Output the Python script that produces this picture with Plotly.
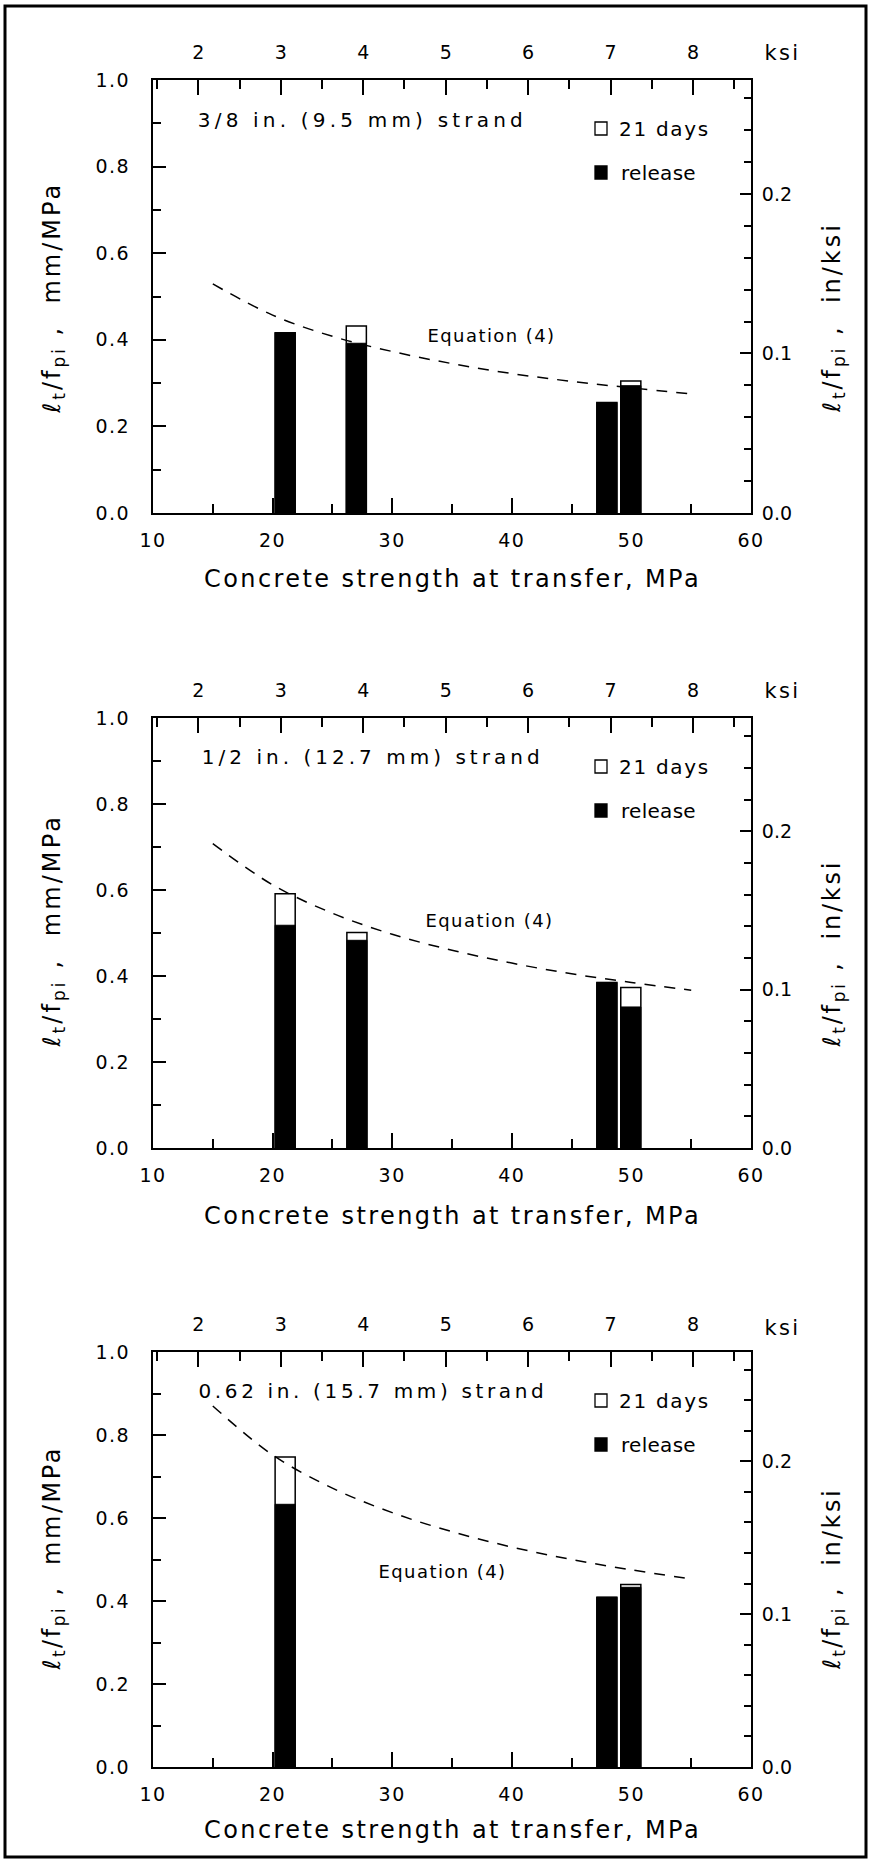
import json
import plotly.graph_objects as go

W, H = 871, 1862
MPA_PER_KSI = 6.894757
INKSI_PER_MMMPA = MPA_PER_KSI / 25.4

# ---------------- data ----------------
bar_x_p1 = [21.05, 27.0, 47.95, 49.95]
release_p1 = [0.416, 0.392, 0.255, 0.294]
days21_p1 = [0.416, 0.432, 0.255, 0.305]

bar_x_p2 = [21.05, 27.05, 47.95, 49.95]
release_p2 = [0.518, 0.483, 0.385, 0.328]
days21_p2 = [0.591, 0.501, 0.385, 0.373]

bar_x_p3 = [21.05, 47.95, 49.95]
release_p3 = [0.633, 0.409, 0.433]
days21_p3 = [0.747, 0.409, 0.440]

eq_x = [15, 20, 25, 30, 35, 40, 45, 50, 55]
eq_p1 = [0.529, 0.457, 0.408, 0.373, 0.345, 0.322, 0.304, 0.289, 0.275]
eq_p2 = [0.708, 0.612, 0.546, 0.497, 0.460, 0.430, 0.405, 0.385, 0.367]
eq_p3 = [0.870, 0.752, 0.672, 0.613, 0.567, 0.530, 0.500, 0.475, 0.453]

strand_labels = ["3/8 in. (9.5 mm) strand",
                 "1/2 in. (12.7 mm) strand",
                 "0.62 in. (15.7 mm) strand"]

mpa_ticks = [10, 20, 30, 40, 50, 60]
ksi_ticks = [2, 3, 4, 5, 6, 7, 8]
mm_ticks = [0.0, 0.2, 0.4, 0.6, 0.8, 1.0]
in_ticks = [0.0, 0.1, 0.2]

x_title = "Concrete strength at transfer, MPa"
y_title_left = "ℓ<sub>t</sub>/f<sub>pi</sub> ,  mm/MPa"
y_title_right = "ℓ<sub>t</sub>/f<sub>pi</sub> ,  in/ksi"
legend_labels = ["21 days", "release"]
eq_label = "Equation (4)"

panels = [
    dict(x=bar_x_p1, rel=release_p1, d21=days21_p1, eq=eq_p1, label=strand_labels[0]),
    dict(x=bar_x_p2, rel=release_p2, d21=days21_p2, eq=eq_p2, label=strand_labels[1]),
    dict(x=bar_x_p3, rel=release_p3, d21=days21_p3, eq=eq_p3, label=strand_labels[2]),
]

# ---------------- layout geometry (pixels) ----------------
PLOT_L, PLOT_R = 153, 751
tops = [80, 718, 1352]
bottoms = [513, 1148, 1767]
ksi_lab_dy = [27, 27, 24]
xtitle_dy = [66, 68, 63]
strand_pos = [(362, 40), (372, 39), (373, 39)]
strand_w = [329, 342, 349]
eq_pos = [(38.3, 0.409), (38.1, 0.528), (34.2, 0.470)]
ytl_span = [(176, 419), (808, 1053), (1441, 1675)]
ytr_span = [(217, 419), (855, 1053), (1484, 1675)]

FONT = "DejaVu Sans"


def px(x):
    return x / W


def py(y):
    return 1 - y / H


def ref(p, n):
    return p if n == 1 else f"{p}{n}"


def axname(p, n):
    return p + "axis" + ("" if n == 1 else str(n))


fig = go.Figure()
layout = dict(
    width=W, height=H, template="none",
    margin=dict(l=0, r=0, t=0, b=0, pad=0),
    paper_bgcolor="white", plot_bgcolor="white",
    barmode="overlay", showlegend=False,
    font=dict(family=FONT, color="black", size=19),
)
annotations = []
targets = []   # target rendered width (px) of each annotation text
shapes = []

axis_common = dict(showgrid=False, zeroline=False, showline=True, linecolor="black",
                   linewidth=2, ticks="inside", tickcolor="black", tickwidth=1.5,
                   tickfont=dict(family=FONT, size=19, color="black"),
                   fixedrange=True, automargin=False)


def add_ann(target, **kw):
    annotations.append(dict(showarrow=False, **kw))
    targets.append(target)


for i, p in enumerate(panels):
    nb, nt = 2 * i + 1, 2 * i + 2
    xb, yl = ref("x", nb), ref("y", nb)
    top, bot = tops[i], bottoms[i]

    layout[axname("x", nb)] = dict(
        axis_common, domain=[px(PLOT_L), px(PLOT_R)], anchor=yl, range=[10, 60],
        tickmode="array", tickvals=mpa_ticks, ticktext=[str(v) for v in mpa_ticks],
        ticklen=15, ticklabelstandoff=9,
        minor=dict(ticks="inside", ticklen=9, tickmode="linear", tick0=0, dtick=5,
                   tickcolor="black", tickwidth=1.5),
    )
    layout[axname("x", nt)] = dict(
        axis_common, overlaying=xb, side="top", anchor=yl,
        range=[10 / MPA_PER_KSI, 60 / MPA_PER_KSI],
        tickmode="array", tickvals=ksi_ticks, ticktext=[str(v) for v in ksi_ticks],
        ticklen=15, ticklabelstandoff=11,
        minor=dict(ticks="inside", ticklen=9, tickmode="linear", tick0=0, dtick=0.5,
                   tickcolor="black", tickwidth=1.5),
    )
    layout[axname("y", nb)] = dict(
        axis_common, domain=[py(bot), py(top)], anchor=xb, range=[0, 1],
        tickmode="array", tickvals=mm_ticks, ticktext=[f"{v:.1f}" for v in mm_ticks],
        ticklen=13, ticklabelstandoff=17,
        minor=dict(ticks="inside", ticklen=8, tickmode="linear", tick0=0, dtick=0.1,
                   tickcolor="black", tickwidth=1.5),
    )
    layout[axname("y", nt)] = dict(
        axis_common, overlaying=yl, side="right", anchor=xb,
        range=[0, INKSI_PER_MMMPA],
        tickmode="array", tickvals=in_ticks, ticktext=[f"{v:.1f}" for v in in_ticks],
        ticklen=11, ticklabelstandoff=5,
        minor=dict(ticks="inside", ticklen=7, tickmode="linear", tick0=0, dtick=0.02,
                   tickcolor="black", tickwidth=1.5),
    )

    # invisible anchor trace so top/right axes get drawn
    fig.add_trace(go.Scatter(x=[ksi_ticks[0]], y=[in_ticks[0]], mode="markers",
                             marker=dict(opacity=0), hoverinfo="skip",
                             xaxis=ref("x", nt), yaxis=ref("y", nt)))

    # bars: 21 days (white, outlined), release (black) on top
    fig.add_trace(go.Bar(x=p["x"], y=p["d21"], width=1.68, xaxis=xb, yaxis=yl,
                         marker=dict(color="white", line=dict(color="black", width=1.5)),
                         hoverinfo="skip"))
    fig.add_trace(go.Bar(x=p["x"], y=p["rel"], width=1.68, xaxis=xb, yaxis=yl,
                         marker=dict(color="black", line=dict(color="black", width=1)),
                         hoverinfo="skip"))
    # Equation (4) curve
    fig.add_trace(go.Scatter(x=eq_x, y=p["eq"], mode="lines", xaxis=xb, yaxis=yl,
                             line=dict(color="black", width=1.5, dash="11px,9px",
                                       shape="spline"),
                             hoverinfo="skip"))

    # text annotations
    add_ann(36, text="ksi", xref="paper", yref="paper",
            x=px(782), y=py(top - ksi_lab_dy[i]), xanchor="center", yanchor="middle",
            font=dict(family=FONT, size=21))
    add_ann(497, text=x_title, xref="paper", yref="paper",
            x=px((PLOT_L + PLOT_R) / 2), y=py(bot + xtitle_dy[i]),
            xanchor="center", yanchor="middle", font=dict(family=FONT, size=24))
    a, b = ytl_span[i]
    add_ann(b - a, text=y_title_left, xref="paper", yref="paper",
            x=px(53), y=py((a + b) / 2), textangle=-90, xanchor="center",
            yanchor="middle", font=dict(family=FONT, size=24))
    a, b = ytr_span[i]
    add_ann(b - a, text=y_title_right, xref="paper", yref="paper",
            x=px(833), y=py((a + b) / 2), textangle=-90, xanchor="center",
            yanchor="middle", font=dict(family=FONT, size=24))
    sx, sdy = strand_pos[i]
    add_ann(strand_w[i], text=p["label"], xref="paper", yref="paper",
            x=px(sx), y=py(top + sdy), xanchor="center", yanchor="middle",
            font=dict(family=FONT, size=20))
    ex, ey = eq_pos[i]
    add_ann(128, text=eq_label, xref=xb, yref=yl, x=ex, y=ey,
            xanchor="center", yanchor="middle", font=dict(family=FONT, size=18))
    # legend
    for lab, fill, dy, cx, tw in zip(legend_labels, ["white", "black"], [49, 93],
                                     [664.5, 658.5], [91, 75]):
        shapes.append(dict(type="rect", xref="paper", yref="paper",
                           x0=px(595), x1=px(607), y0=py(top + dy + 6), y1=py(top + dy - 7),
                           line=dict(color="black", width=1.3), fillcolor=fill))
        add_ann(tw, text=lab, xref="paper", yref="paper",
                x=px(cx), y=py(top + dy), xanchor="center", yanchor="middle",
                font=dict(family=FONT, size=20))

# outer frame
shapes.append(dict(type="rect", xref="paper", yref="paper",
                   x0=px(5), x1=px(866), y0=py(1857), y1=py(6),
                   line=dict(color="black", width=3), fillcolor="rgba(0,0,0,0)"))

layout["annotations"] = annotations
layout["shapes"] = shapes
fig.update_layout(**layout)

# place the figure at the page origin and widen letter spacing of texts to
# match the wide tracking of the original font
post_js = """
document.documentElement.style.margin = '0';
document.documentElement.style.padding = '0';
document.body.style.margin = '0';
document.body.style.padding = '0';
document.body.style.overflow = 'hidden';
var gd = document.getElementById('{plot_id}');
var targets = %s;
gd.querySelectorAll('.annotation').forEach(function(g){
  var i = parseInt(g.getAttribute('data-index'));
  var t = targets[i];
  var el = g.querySelector('.annotation-text');
  if (!el || t == null) return;
  var n = el.textContent.length;
  var w = el.getComputedTextLength();
  var ls = (t - w) / Math.max(n, 1);
  if (ls > 0) { el.style.letterSpacing = ls.toFixed(2) + 'px'; }
});
gd.querySelectorAll('.xaxislayer-above text, .yaxislayer-above text').forEach(function(el){
  el.style.letterSpacing = '1.5px';
});
""" % json.dumps(targets)

fig.write_html("out.html", post_script=post_js,
               config={"displayModeBar": False, "staticPlot": False})
